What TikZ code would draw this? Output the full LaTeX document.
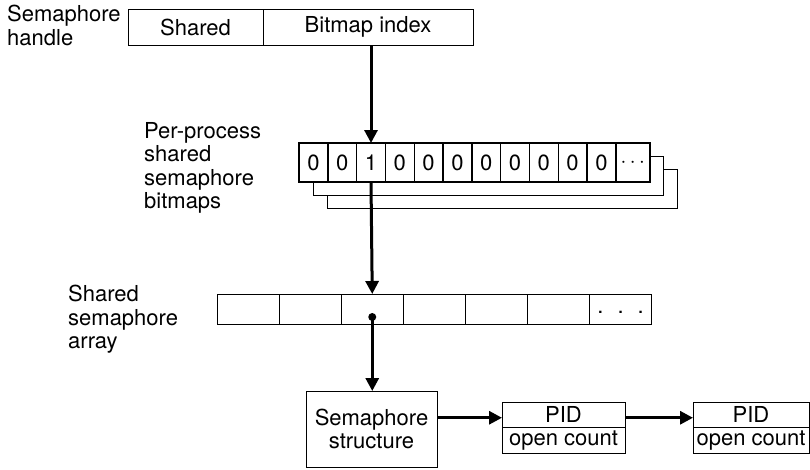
\documentclass[tikz,border=0pt]{standalone}
\usepackage{fontspec}
\setmainfont{TeX Gyre Heros}
\usetikzlibrary{arrows.meta, positioning, calc, backgrounds}
\tikzset{
    cell/.style={rectangle, draw=black, line width=1pt, fill=white, inner sep=0pt, outer sep=0pt, align=center, font=\fontsize{22}{23.5}\selectfont},
    sidetext/.style={anchor=north west, inner sep=0pt, align=left, font=\fontsize{22}{23.5}\selectfont}
}

\begin{document}
\begin{tikzpicture}[x=1pt, y=-1pt,
  field/.style={cell, minimum height=36pt},
  bitcell/.style={cell, line width=1.4pt, minimum width=28.8pt, minimum height=39pt},
  slot/.style={cell, minimum width=62.1pt, minimum height=30pt},
  rowbox/.style={cell, minimum height=25.5pt},
  arrow/.style={-{Triangle[length=13pt, width=13pt]}, line width=3pt}]
  \useasboundingbox (0,0) rectangle (810,469);
  % handle
  \node[sidetext] (hlbl) at (7,5) {Semaphore\\handle};
  \node[field, minimum width=135pt, anchor=north west] (shared) at (128,9) {Shared};
  \node[field, minimum width=210pt, right=0pt of shared] (bindex) {Bitmap index};
  % bitmaps
  \node[sidetext] (blbl) at (144,122) {Per-process\\shared\\semaphore\\bitmaps};
  \foreach \v [count=\i] in {0,0,1,0,0,0,0,0,0,0,0}
    \node[bitcell] (b\i) at ({299+28.8*(\i-0.5)},162.5) {\v};
  \node[bitcell, minimum width=34pt, right=0pt of b11] (bmore) {$\cdots$};
  \begin{scope}[on background layer]
    \foreach \d in {2,1}
      \draw[line width=1pt, fill=white] ($(b1.north west)+(14*\d,13*\d)$) rectangle ($(bmore.south east)+(14*\d,13*\d)$);
  \end{scope}
  % array
  \node[sidetext] (albl) at (68,285) {Shared\\semaphore\\array};
  \foreach \i in {1,...,6}
    \node[slot] (a\i) at ({217+62.1*(\i-0.5)},309) {};
  \node[slot, right=0pt of a6] (a7) {\strut.\hspace{14pt}.\hspace{14pt}.};
  \coordinate (dot) at ([yshift=-8pt]a3.center);
  % structure and list
  \node[cell, minimum width=131pt, minimum height=76pt] (sem) at (371.5,429) {Semaphore\\structure};
  \node[rowbox, minimum width=123pt, anchor=north west] (pid1) at (502,402) {PID};
  \node[rowbox, minimum width=123pt, below=0pt of pid1] (cnt1) {open count};
  \node[rowbox, minimum width=116pt, anchor=north west] (pid2) at (693,402) {PID};
  \node[rowbox, minimum width=116pt, below=0pt of pid2] (cnt2) {open count};
  \draw[arrow] (b3.north |- bindex.south) -- (b3.north);
  \draw[arrow] (b3.south) -- (a3.north);
  \fill (dot) circle (4pt);
  \draw[arrow] (dot) -- (dot |- sem.north);
  \draw[arrow] ([yshift=-3pt]sem.east |- pid1.west) -- ([yshift=-3pt]pid1.west);
  \draw[arrow] ([yshift=-3pt]pid1.east) -- ([yshift=-3pt]pid2.west);
\end{tikzpicture}
\end{document}
